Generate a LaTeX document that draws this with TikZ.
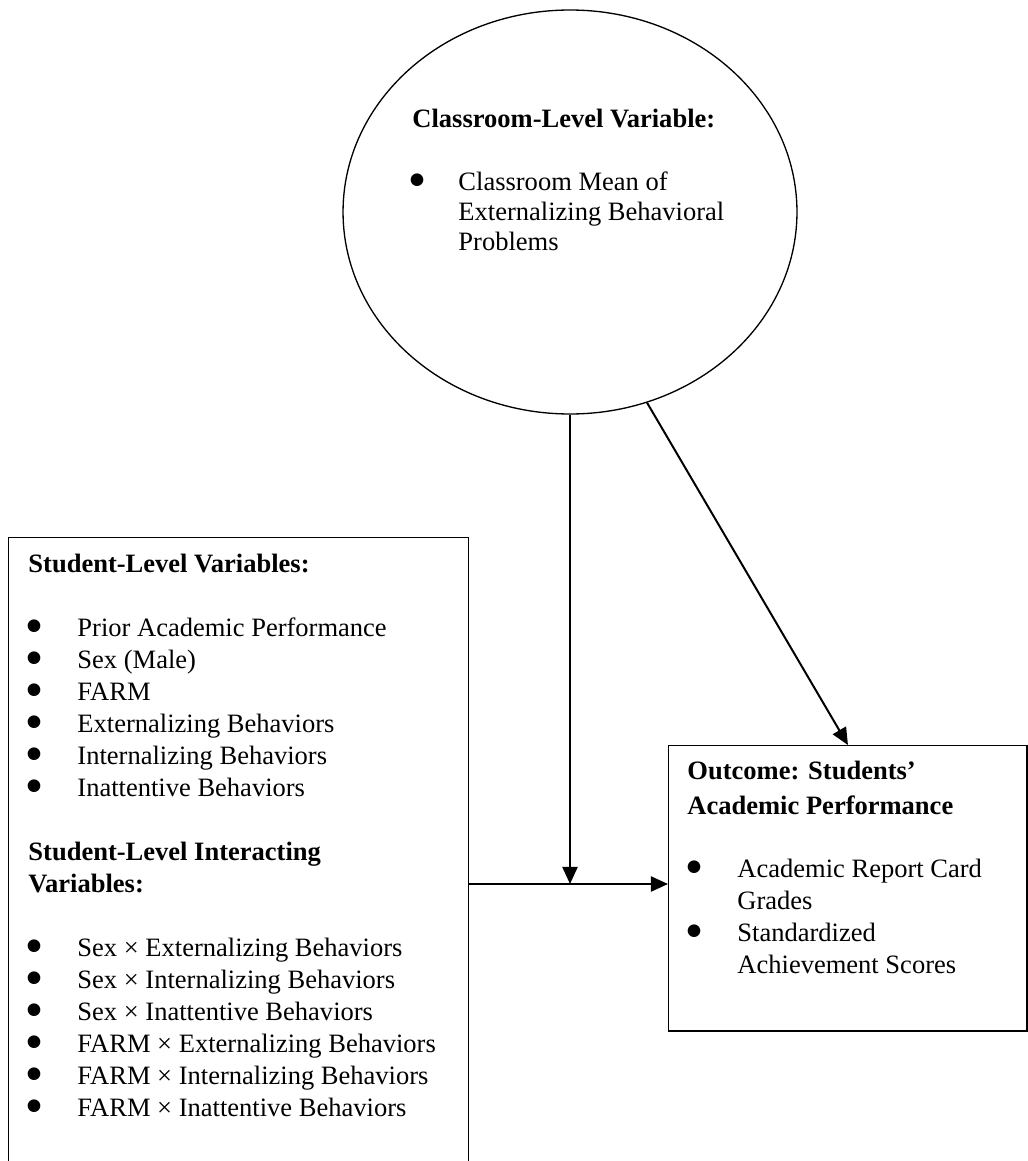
\documentclass[tikz,border=0pt]{standalone}
\usepackage{fontspec}
\setmainfont{Liberation Serif}
\newfontfamily\symfont{DejaVu Sans}
\usetikzlibrary{arrows.meta,shapes.geometric}
\begin{document}
\begin{tikzpicture}[x=0.45248pt,y=-0.45248pt,
  txt/.style={anchor=base west,inner sep=0pt,font=\fontsize{12pt}{14pt}\selectfont},
  hd/.style={anchor=base west,inner sep=0pt,font=\fontsize{12pt}{14pt}\selectfont\bfseries},
  dot/.style={anchor=base,inner sep=0pt,yshift=2.3pt,font=\symfont\fontsize{7.5pt}{9pt}\selectfont},
  frame/.style={draw,line width=0.65pt,rectangle,inner sep=0pt,anchor=north west},
  conn/.style={line width=0.9pt,-{Triangle[length=7.7pt,width=6.8pt]}}]
\useasboundingbox (0,0) rectangle (1027,1161);
% shapes
\node[draw,ellipse,line width=0.6pt,inner sep=0pt,minimum width=205.4pt,minimum height=182.8pt] (cls) at (570,212) {};
\node[frame,minimum width=208.1pt,minimum height=300pt] (stu) at (8,537) {};
\node[frame,minimum width=162.2pt,minimum height=129pt] (out) at (668,745) {};
% classroom text
\node[hd] (clsh) at (412,127) {Classroom-Level Variable:};
\node[dot] (clsb) at (417,190) {●};
\node[txt] (clst1) at (458,190) {Classroom Mean of};
\node[txt] (clst2) at (458,220) {Externalizing Behavioral};
\node[txt] (clst3) at (458,250) {Problems};
% student text
\node[hd] (stuh1) at (28,572) {Student-Level Variables:};
\foreach \y/\t [count=\i] in {636/Prior Academic Performance,668/Sex (Male),700/FARM,732/Externalizing Behaviors,764/Internalizing Behaviors,796/Inattentive Behaviors}{
  \node[dot] (sa\i) at (34,\y) {●};
  \node[txt] (sat\i) at (77,\y) {\t};
}
\node[hd] (stuh2) at (28,860) {Student-Level Interacting};
\node[hd] (stuh3) at (28,892) {Variables:};
\foreach \y/\t [count=\i] in {956/Sex × Externalizing Behaviors,988/Sex × Internalizing Behaviors,1020/Sex × Inattentive Behaviors,1052/FARM × Externalizing Behaviors,1084/FARM × Internalizing Behaviors,1116/FARM × Inattentive Behaviors}{
  \node[dot] (sb\i) at (34,\y) {●};
  \node[txt] (sbt\i) at (77,\y) {\t};
}
% outcome text
\node[hd] (outh1) at (687,779) {Outcome: Students’};
\node[hd] (outh2) at (687,814) {Academic Performance};
\node[dot] (ob1) at (694,877) {●};
\node[txt] (ot1) at (737,877) {Academic Report Card};
\node[txt] (ot2) at (737,909) {Grades};
\node[dot] (ob2) at (694,941) {●};
\node[txt] (ot3) at (737,941) {Standardized};
\node[txt] (ot4) at (737,973) {Achievement Scores};
% connectors
\coordinate (jn) at (570,884);
\draw[conn] (stu.east |- jn) -- (out.west |- jn);
\draw[conn] (cls.south) -- (cls.south |- jn);
\draw[conn] (cls.-68.6) -- (out.north);
\end{tikzpicture}
\end{document}
